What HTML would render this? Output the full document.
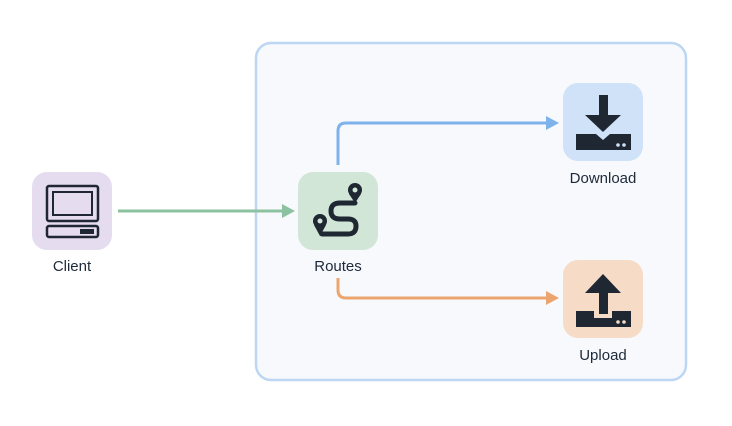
<!DOCTYPE html>
<html><head><style>
html,body{margin:0;padding:0;background:#fff;width:732px;height:426px;overflow:hidden}
text{font-family:"Liberation Sans",sans-serif;font-size:15px;fill:#1e2a3a}
</style></head><body>
<svg width="732" height="426" viewBox="0 0 732 426" xmlns="http://www.w3.org/2000/svg">
<rect x="256" y="43" width="430" height="337" rx="15" fill="#f7f9fd" stroke="#bcd6f3" stroke-width="2.5"/>
<!-- connectors -->
<path d="M118 211 H284" stroke="#8cc29f" stroke-width="3" fill="none"/>
<path d="M282 204 L295 211 L282 218 Z" fill="#8cc29f"/>
<path d="M338 165 V131 Q338 123 346 123 H548" stroke="#7db3ea" stroke-width="3" fill="none"/>
<path d="M546 116 L559 123 L546 130 Z" fill="#7db3ea"/>
<path d="M338 278 V290 Q338 298 346 298 H548" stroke="#eca56e" stroke-width="3" fill="none"/>
<path d="M546 291 L559 298 L546 305 Z" fill="#eca56e"/>
<!-- Client -->
<rect x="32" y="172" width="80" height="78" rx="15" fill="#e6dcef"/>
<rect x="47" y="186" width="51" height="35" rx="2" fill="none" stroke="#1e2732" stroke-width="2.5"/>
<rect x="53" y="192" width="39" height="23" fill="none" stroke="#1e2732" stroke-width="2"/>
<rect x="47" y="226" width="51" height="11" rx="2" fill="none" stroke="#1e2732" stroke-width="2.5"/>
<rect x="80" y="229" width="14" height="5" fill="#1e2732"/>
<text x="72" y="271" text-anchor="middle">Client</text>
<!-- Routes -->
<rect x="298" y="172" width="80" height="78" rx="15" fill="#d2e6d8"/>
<circle cx="355" cy="190" r="7" fill="#1e2732"/>
<circle cx="355" cy="190" r="2.5" fill="#d2e6d8"/>
<path d="M349 194 L355 203 L361 194 Z" fill="#1e2732"/>
<circle cx="320" cy="221" r="7" fill="#1e2732"/>
<circle cx="320" cy="221" r="2.5" fill="#d2e6d8"/>
<path d="M314 225 L320 236 L326 225 Z" fill="#1e2732"/>
<path d="M355 203 H340 Q331 203 331 211 Q331 219 340 219 H348 Q356 219 356 226 Q356 234 348 234 H322" stroke="#1e2732" stroke-width="5" fill="none" stroke-linecap="round"/>
<text x="338" y="271" text-anchor="middle">Routes</text>
<!-- Download -->
<rect x="563" y="83" width="80" height="78" rx="15" fill="#cfe2f7"/>
<rect x="599" y="95" width="9" height="22" fill="#1e2732"/>
<path d="M585 115 H621 L603 132 Z" fill="#1e2732"/>
<path d="M576 134 H596 L603 140 L610 134 H631 V150 H576 Z" fill="#1e2732"/>
<circle cx="618" cy="145" r="1.8" fill="#cfe2f7"/><circle cx="624" cy="145" r="1.8" fill="#cfe2f7"/>
<text x="603" y="183" text-anchor="middle">Download</text>
<!-- Upload -->
<rect x="563" y="260" width="80" height="78" rx="15" fill="#f6dcc7"/>
<path d="M585 293 L603 274 L621 293 Z" fill="#1e2732"/>
<rect x="599" y="292" width="9" height="22" fill="#1e2732"/>
<path d="M576 311 H594 V318 H612 V311 H631 V327 H576 Z" fill="#1e2732"/>
<circle cx="618" cy="322" r="1.8" fill="#f6dcc7"/><circle cx="624" cy="322" r="1.8" fill="#f6dcc7"/>
<text x="603" y="360" text-anchor="middle">Upload</text>
</svg>
</body></html>
